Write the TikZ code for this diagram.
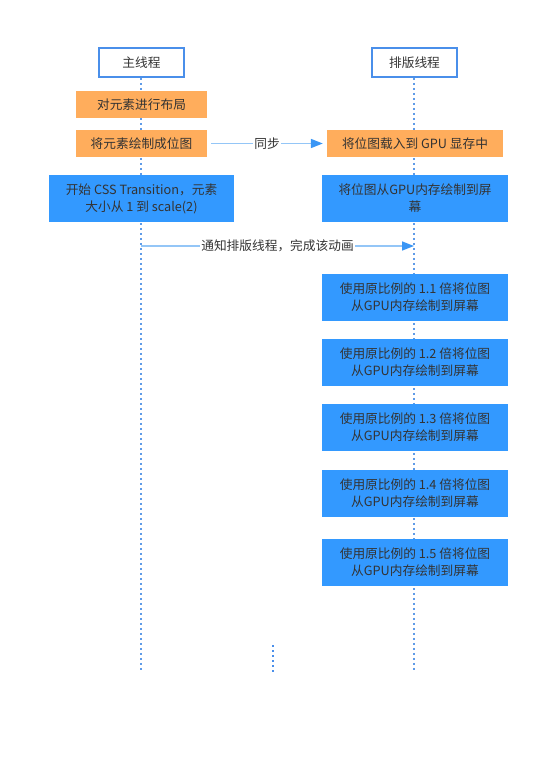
\documentclass[tikz,border=0pt]{standalone}
\usepackage{fontspec}
\setmainfont{Noto Sans CJK SC}
\usetikzlibrary{arrows.meta,calc}
\definecolor{hdblue}{HTML}{4A8FEA}
\definecolor{boxblue}{HTML}{3399FF}
\definecolor{boxorange}{HTML}{FFAD5C}
\definecolor{linkblue}{HTML}{94C6F7}
\definecolor{tipblue}{HTML}{3A96F5}
\definecolor{dotblue}{HTML}{5E9BE8}
\definecolor{txtgray}{HTML}{333333}
\tikzset{
  header/.style ={draw=hdblue, line width=1.6pt, fill=white, text=txtgray,
                  minimum width=85pt, minimum height=29pt, inner sep=0pt},
  ostep/.style  ={fill=boxorange, text=txtgray, minimum height=27pt, inner sep=0pt},
  bstep/.style  ={fill=boxblue, text=txtgray, minimum height=47pt, inner sep=0pt,
                  align=center},
  life/.style   ={dotblue, line width=2pt, dash pattern=on 2pt off 3pt},
  ellip/.style  ={hdblue, line width=2.6pt, dash pattern=on 2.2pt off 2.8pt},
  msg/.style    ={linkblue, line width=1.6pt,
                  -{Triangle[length=12pt,width=9pt,color=tipblue]}},
  msglabel/.style={fill=white, text=txtgray, inner sep=1pt},
}
\newcommand{\scalestep}[3]{%
  \node[bstep, minimum width=186pt] (#1) at (415,#2)
    {使用原比例的 #3 倍将位图\\从GPU内存绘制到屏幕};}

\begin{document}
\begin{tikzpicture}[x=1pt,y=-1pt,font=\fontsize{12.7}{17}\selectfont]
  \useasboundingbox (0,0) rectangle (540,770);
  % lanes
  \node[header] (main) at (141.5,62.5) {主线程};
  \node[header] (layt) at (414.5,62.5) {排版线程};
  \coordinate (mainend) at (141,672);
  \coordinate (laytend) at (414,672);
  \draw[life] (main.south -| mainend) -- (mainend);
  \draw[life] (layt.south -| laytend) -- (laytend);
  % main thread
  \node[ostep, minimum width=131pt] (layout) at (141.5,104.5) {对元素进行布局};
  \node[ostep, minimum width=131pt] (paint) at (141.5,143.5) {将元素绘制成位图};
  \node[bstep, minimum width=185pt] (trans) at (141.5,198.5)
    {开始 CSS Transition，元素\\大小从 1 到 scale(2)};
  % layout thread
  \node[ostep, minimum width=176pt] (upload) at (415,143.5) {将位图载入到 GPU 显存中};
  \node[bstep, minimum width=186pt] (blit) at (415,198.5)
    {将位图从GPU内存绘制到屏\\幕};
  \scalestep{s11}{297.5}{1.1}
  \scalestep{s12}{362.5}{1.2}
  \scalestep{s13}{427.5}{1.3}
  \scalestep{s14}{493.5}{1.4}
  \scalestep{s15}{562.5}{1.5}
  % messages
  \draw[msg, shorten <=4pt, shorten >=4pt] (paint) -- (upload)
    node[midway, msglabel] (sync) {同步};
  \coordinate (notifya) at (141,246);
  \coordinate (notifyb) at (414,246);
  \draw[msg] (notifya) -- (notifyb)
    node[midway, msglabel] (notify) {通知排版线程，完成该动画};
  % more frames
  \coordinate (morea) at (273,645);
  \coordinate (moreb) at (273,672);
  \draw[ellip] (morea) -- (moreb);
\end{tikzpicture}
\end{document}
